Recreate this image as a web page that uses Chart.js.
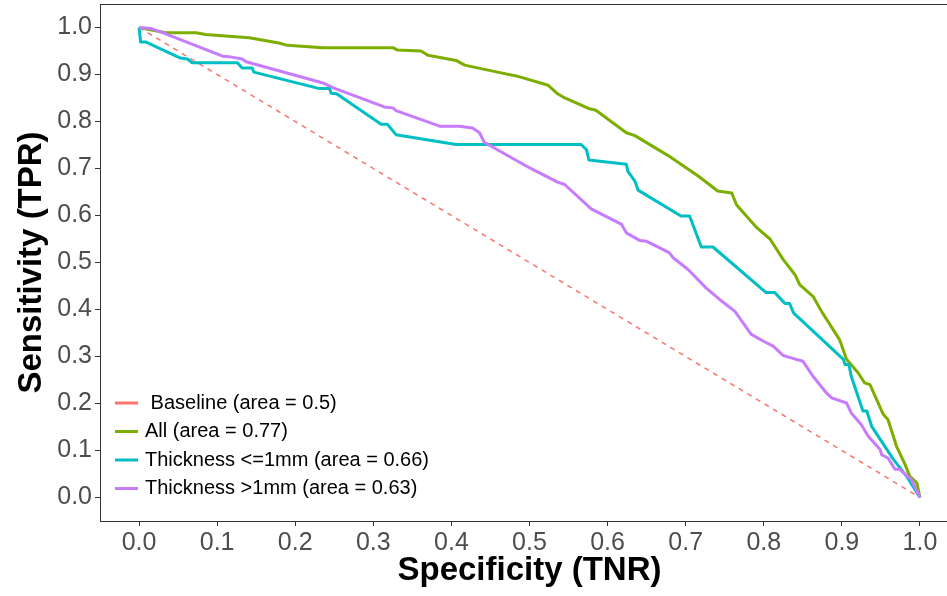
<!DOCTYPE html>
<html>
<head>
<meta charset="utf-8">
<script src="https://cdn.jsdelivr.net/npm/chart.js@4/dist/chart.umd.min.js"></script>
<style>
  html, body { margin: 0; padding: 0; background: #fff; overflow: hidden; }
</style>
</head>
<body>
<canvas id="roc" width="959" height="596"></canvas>
<script>
// specificity (x) and sensitivity (y)
const baseSpec = [0, 1];
const baseSens = [1, 0];

const allSpec = [0, 0.034, 0.073, 0.085, 0.141, 0.179, 0.19, 0.235, 0.325, 0.331, 0.361, 0.37, 0.406, 0.417, 0.462, 0.483, 0.524, 0.536, 0.543, 0.577, 0.585, 0.624, 0.635, 0.677, 0.716, 0.741, 0.759, 0.765, 0.791, 0.808, 0.825, 0.840, 0.846, 0.863, 0.874, 0.897, 0.906, 0.921, 0.929, 0.936, 0.953, 0.959, 0.970, 0.981, 0.987, 0.996, 1.0];
const allSens = [1.0, 0.989, 0.989, 0.985, 0.978, 0.967, 0.962, 0.957, 0.957, 0.952, 0.950, 0.941, 0.930, 0.920, 0.904, 0.897, 0.877, 0.859, 0.852, 0.827, 0.824, 0.776, 0.770, 0.728, 0.684, 0.652, 0.648, 0.623, 0.574, 0.550, 0.506, 0.474, 0.453, 0.428, 0.396, 0.336, 0.294, 0.265, 0.244, 0.240, 0.177, 0.166, 0.109, 0.070, 0.045, 0.031, 0.0];

const thinSpec = [0, 0.002, 0.009, 0.053, 0.062, 0.068, 0.126, 0.132, 0.145, 0.147, 0.231, 0.244, 0.246, 0.253, 0.31, 0.318, 0.329, 0.406, 0.566, 0.573, 0.576, 0.624, 0.626, 0.635, 0.639, 0.694, 0.705, 0.720, 0.735, 0.803, 0.814, 0.827, 0.833, 0.838, 0.902, 0.904, 0.909, 0.912, 0.927, 0.932, 0.938, 0.966, 0.983, 1.0];
const thinSens = [1.0, 0.969, 0.969, 0.935, 0.933, 0.925, 0.925, 0.914, 0.914, 0.905, 0.870, 0.870, 0.860, 0.859, 0.794, 0.794, 0.772, 0.751, 0.751, 0.740, 0.718, 0.709, 0.694, 0.673, 0.654, 0.599, 0.599, 0.533, 0.533, 0.436, 0.436, 0.413, 0.413, 0.393, 0.294, 0.283, 0.283, 0.258, 0.184, 0.184, 0.152, 0.081, 0.045, 0.0];

const thickSpec = [0, 0.015, 0.03, 0.107, 0.115, 0.132, 0.137, 0.231, 0.237, 0.248, 0.314, 0.325, 0.329, 0.385, 0.410, 0.427, 0.436, 0.442, 0.494, 0.504, 0.536, 0.545, 0.579, 0.618, 0.624, 0.641, 0.650, 0.679, 0.684, 0.703, 0.726, 0.746, 0.763, 0.784, 0.799, 0.812, 0.825, 0.835, 0.850, 0.863, 0.880, 0.887, 0.906, 0.912, 0.925, 0.934, 0.949, 0.951, 0.959, 0.968, 0.974, 0.989, 1.0];
const thickSens = [1.0, 0.998, 0.989, 0.939, 0.938, 0.933, 0.927, 0.884, 0.881, 0.872, 0.831, 0.829, 0.823, 0.790, 0.790, 0.786, 0.776, 0.756, 0.707, 0.698, 0.671, 0.666, 0.614, 0.581, 0.563, 0.547, 0.545, 0.521, 0.510, 0.485, 0.446, 0.418, 0.396, 0.347, 0.333, 0.322, 0.302, 0.297, 0.290, 0.258, 0.223, 0.212, 0.201, 0.180, 0.155, 0.130, 0.102, 0.091, 0.084, 0.060, 0.060, 0.038, 0.0];

const labels = [' Baseline (area = 0.5)', 'All (area = 0.77)', 'Thickness <=1mm (area = 0.66)', 'Thickness >1mm (area = 0.63)'];
const colors = ['#F8766D', '#7CAE00', '#00BFC4', '#C77CFF'];
const tickValues = [0, 0.1, 0.2, 0.3, 0.4, 0.5, 0.6, 0.7, 0.8, 0.9, 1.0];

const pts = (xs, ys) => xs.map((x, i) => ({x: x, y: ys[i]}));

// ggplot-like legend inside the panel, bottom left
const insideLegend = {
    id: 'insideLegend',
    afterDatasetsDraw(chart) {
        const ctx = chart.ctx;
        ctx.save();
        ctx.font = '20px "Liberation Sans", Arial, sans-serif';
        ctx.textBaseline = 'middle';
        chart.data.datasets.forEach((ds, i) => {
            const y = 403 + i * 28.5;
            ctx.strokeStyle = ds.borderColor;
            ctx.lineWidth = 3;
            ctx.beginPath();
            ctx.moveTo(115, y);
            ctx.lineTo(138, y);
            ctx.stroke();
            ctx.fillStyle = '#000';
            ctx.fillText(ds.label, 145, y);
        });
        ctx.restore();
    }
};

const panelBorder = {
    id: 'panelBorder',
    afterDraw(chart) {
        const a = chart.chartArea;
        const ctx = chart.ctx;
        ctx.save();
        ctx.strokeStyle = '#333';
        ctx.lineWidth = 1;
        ctx.strokeRect(Math.round(a.left) + 0.5, Math.round(a.top) + 0.5, a.right - a.left, a.bottom - a.top);
        ctx.restore();
    }
};

const tickFont = {family: '"Liberation Sans", Arial, sans-serif', size: 25};
const titleFont = {family: '"Liberation Sans", Arial, sans-serif', size: 33, weight: 'bold'};

new Chart(document.getElementById('roc'), {
    type: 'line',
    data: {
        datasets: [
            {label: labels[0], data: pts(baseSpec, baseSens), borderColor: colors[0], borderWidth: 1.5, borderDash: [5, 5], order: 4},
            {label: labels[1], data: pts(allSpec, allSens), borderColor: colors[1], borderWidth: 3, order: 3},
            {label: labels[2], data: pts(thinSpec, thinSens), borderColor: colors[2], borderWidth: 3, order: 2},
            {label: labels[3], data: pts(thickSpec, thickSens), borderColor: colors[3], borderWidth: 3, order: 1}
        ]
    },
    options: {
        responsive: false,
        animation: false,
        elements: {point: {radius: 0}, line: {tension: 0, borderJoinStyle: 'round'}},
        layout: {padding: {top: 4, right: 0, left: 0, bottom: 0}},
        plugins: {legend: {display: false}, tooltip: {enabled: false}},
        scales: {
            x: {
                type: 'linear',
                min: -0.05,
                max: 1.05,
                afterBuildTicks: s => { s.ticks = tickValues.map(v => ({value: v})); },
                afterFit: s => { s.height = 75; s.paddingLeft = 0; s.paddingRight = 0; },
                ticks: {color: '#4D4D4D', font: tickFont, padding: 2, maxRotation: 0, callback: v => v.toFixed(1)},
                grid: {display: true, drawOnChartArea: false, drawTicks: true, tickLength: 5, color: '#333'},
                border: {display: false},
                title: {display: true, text: 'Specificity (TNR)', color: '#000', font: titleFont, padding: {top: 0, bottom: 5}}
            },
            y: {
                type: 'linear',
                min: -0.05,
                max: 1.05,
                afterBuildTicks: s => { s.ticks = tickValues.map(v => ({value: v})); },
                afterFit: s => { s.width = 100; s.paddingTop = 0; s.paddingBottom = 0; },
                ticks: {color: '#4D4D4D', font: tickFont, padding: 3, callback: v => v.toFixed(1)},
                grid: {display: true, drawOnChartArea: false, drawTicks: true, tickLength: 5, color: '#333'},
                border: {display: false},
                title: {display: true, text: 'Sensitivity (TPR)', color: '#000', font: titleFont, padding: {top: 12, bottom: 0}}
            }
        }
    },
    plugins: [insideLegend, panelBorder]
});
</script>
</body>
</html>
